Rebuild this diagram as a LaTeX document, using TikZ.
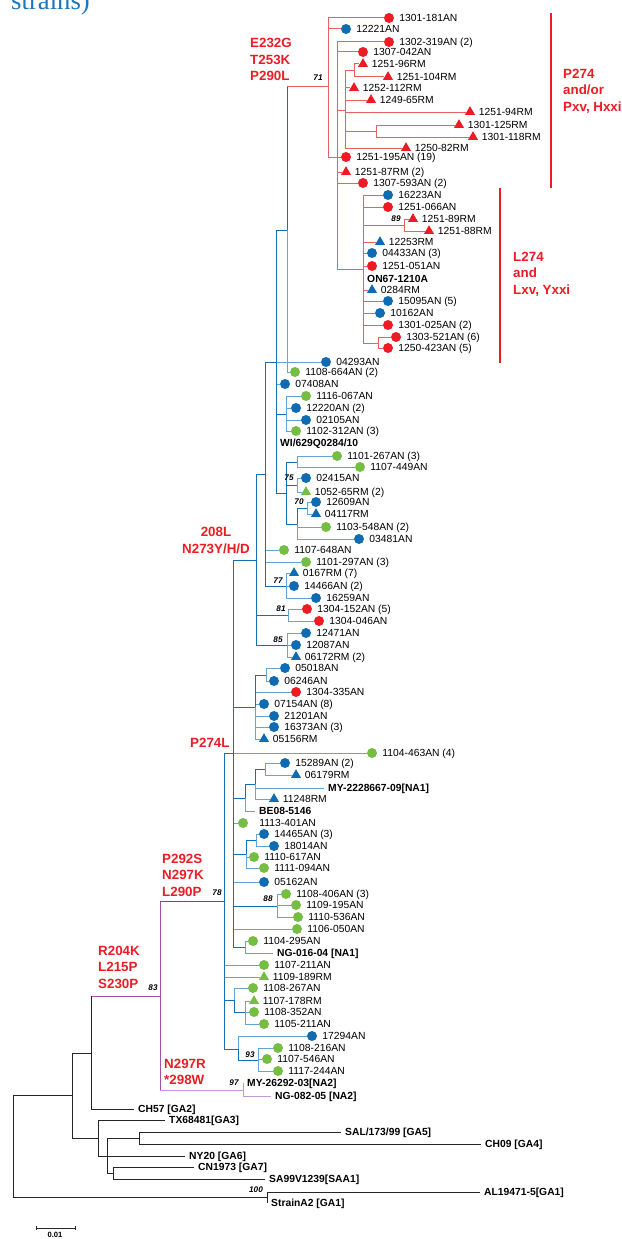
\documentclass[tikz,border=0pt]{standalone}
\usepackage{fontspec}
\setmainfont{Liberation Sans}
\newfontfamily\captionfont{Liberation Serif}
\usetikzlibrary{positioning, shapes.geometric}

\definecolor{dotblue}{RGB}{16,108,178}
\definecolor{dotred}{RGB}{237,28,36}
\definecolor{dotgreen}{RGB}{118,189,67}
\definecolor{lineblue}{RGB}{20,112,182}
\definecolor{leafblue}{RGB}{100,165,215}
\definecolor{linered}{RGB}{240,95,95}
\definecolor{linepurple}{RGB}{165,80,170}
\definecolor{leafpurple}{RGB}{200,150,215}
\definecolor{titleblue}{RGB}{30,118,186}

\begin{document}
\begin{tikzpicture}[
    x=0.03cm, y=-0.03cm,
    node distance=0.15cm,
    bdot/.style={circle, fill=dotblue, inner sep=0pt, minimum size=0.3cm},
    rdot/.style={circle, fill=dotred, inner sep=0pt, minimum size=0.3cm},
    gdot/.style={circle, fill=dotgreen, inner sep=0pt, minimum size=0.3cm},
    btri/.style={regular polygon, regular polygon sides=3, fill=dotblue, inner sep=0pt, minimum size=0.35cm},
    rtri/.style={regular polygon, regular polygon sides=3, fill=dotred, inner sep=0pt, minimum size=0.35cm},
    gtri/.style={regular polygon, regular polygon sides=3, fill=dotgreen, inner sep=0pt, minimum size=0.35cm},
    lbl/.style={font=\fontsize{8.8}{10}\selectfont, inner sep=0pt, text height=6.3pt, text depth=0pt},
    refname/.style={font=\bfseries\fontsize{8.8}{10}\selectfont, inner ysep=0pt, inner xsep=0.12cm, text height=6.3pt, text depth=0pt, anchor=west},
    mut/.style={font=\bfseries\fontsize{11.4}{14}\selectfont, text=dotred, align=left, inner sep=0pt, anchor=west},
    boot/.style={font=\bfseries\itshape\fontsize{7}{8}\selectfont, inner sep=0pt},
    bedge/.style={draw=lineblue, line width=0.85pt},
    bleaf/.style={draw=leafblue, line width=0.85pt},
    redge/.style={draw=linered, line width=0.85pt},
    pedge/.style={draw=linepurple, line width=0.85pt},
    ledge/.style={draw=leafpurple, line width=0.85pt},
    kedge/.style={draw=black!85, line width=0.85pt},
    bar/.style={draw=dotred, line width=1.5pt}
]
\useasboundingbox (0,0) rectangle (622,1239);

\node (title) [anchor=base west, inner sep=0pt, text=titleblue, font=\captionfont\fontsize{22.8}{24}\selectfont] at (11,10) {strains)};

% Internal nodes
\coordinate (nA) at (328,87);
\coordinate (nB) at (337,157);
\coordinate (nC) at (345,110);
\coordinate (nD) at (354,71);
\coordinate (nE) at (376,131);
\coordinate (nF) at (363,269);
\coordinate (nG) at (404,225);
\coordinate (nH) at (378,343);
\coordinate (nJ) at (287,230);
\coordinate (nI) at (276,362);
\coordinate (nL) at (286,414);
\coordinate (nM) at (286,493);
\coordinate (nN) at (297,462);
\coordinate (nO) at (297,485);
\coordinate (nP) at (297,524);
\coordinate (nQ) at (307,508);
\coordinate (nK) at (265,474);
\coordinate (nR) at (286,586);
\coordinate (nS) at (256,560);
\coordinate (nU) at (288,615);
\coordinate (nV) at (287,645);
\coordinate (nT) at (233,753);
\coordinate (nW) at (255,707);
\coordinate (nX) at (266,675);
\coordinate (nCC) at (245,798);
\coordinate (nDD) at (255,784);
\coordinate (nEE) at (265,769);
\coordinate (nFF) at (246,854);
\coordinate (nGG) at (256,840);
\coordinate (nHH) at (277,906);
\coordinate (nBB) at (245,947);
\coordinate (nY) at (224,901);
\coordinate (nII) at (234,1000);
\coordinate (nJJ) at (245,1012);
\coordinate (nZ) at (238,1049);
\coordinate (nAA) at (258,1060);
\coordinate (nPP) at (160,996);
\coordinate (nQQ) at (243,1090);
\coordinate (nRR) at (91,1053);
\coordinate (nSS) at (72,1095);
\coordinate (nTT) at (98,1138);
\coordinate (nUU) at (107,1156);
\coordinate (nVV) at (139,1138);
\coordinate (nWW) at (113,1173);
\coordinate (nRoot) at (13,1146);
\coordinate (nXX) at (267,1197);

% Leaves
\node (m1) [rdot] at (389,18) {}; \node (t1) [lbl, right=of m1] {1301-181AN};
\node (m2) [bdot] at (346,29) {}; \node (t2) [lbl, right=of m2] {12221AN};
\node (m3) [rdot] at (389,42) {}; \node (t3) [lbl, right=of m3] {1302-319AN (2)};
\node (m4) [rdot] at (363,52) {}; \node (t4) [lbl, right=of m4] {1307-042AN};
\node (m5) [rtri] at (363,64) {}; \node (t5) [lbl, right=of m5] {1251-96RM};
\node (m6) [rtri] at (388,77) {}; \node (t6) [lbl, right=of m6] {1251-104RM};
\node (m7) [rtri] at (354,88) {}; \node (t7) [lbl, right=of m7] {1252-112RM};
\node (m8) [rtri] at (371,100) {}; \node (t8) [lbl, right=of m8] {1249-65RM};
\node (m9) [rtri] at (470,112) {}; \node (t9) [lbl, right=of m9] {1251-94RM};
\node (m10) [rtri] at (459,125) {}; \node (t10) [lbl, right=of m10] {1301-125RM};
\node (m11) [rtri] at (473,137) {}; \node (t11) [lbl, right=of m11] {1301-118RM};
\node (m12) [rtri] at (406,148) {}; \node (t12) [lbl, right=of m12] {1250-82RM};
\node (m13) [rdot] at (346,157) {}; \node (t13) [lbl, right=of m13] {1251-195AN (19)};
\node (m14) [rtri] at (346,172) {}; \node (t14) [lbl, right=of m14] {1251-87RM (2)};
\node (m15) [rdot] at (363,183) {}; \node (t15) [lbl, right=of m15] {1307-593AN (2)};
\node (m16) [bdot] at (388,195) {}; \node (t16) [lbl, right=of m16] {16223AN};
\node (m17) [rdot] at (388,207) {}; \node (t17) [lbl, right=of m17] {1251-066AN};
\node (m18) [rtri] at (413,219) {}; \node (t18) [lbl, right=of m18] {1251-89RM};
\node (m19) [rtri] at (429,231) {}; \node (t19) [lbl, right=of m19] {1251-88RM};
\node (m20) [btri] at (380,242) {}; \node (t20) [lbl, right=of m20] {12253RM};
\node (m21) [bdot] at (372,253) {}; \node (t21) [lbl, right=of m21] {04433AN (3)};
\node (m22) [rdot] at (372,266) {}; \node (t22) [lbl, right=of m22] {1251-051AN};
\node (t23) [refname] at (363,279) {ON67-1210A};
\node (m24) [btri] at (372,290) {}; \node (t24) [lbl, right=of m24] {0284RM};
\node (m25) [bdot] at (388,301) {}; \node (t25) [lbl, right=of m25] {15095AN (5)};
\node (m26) [bdot] at (380,313) {}; \node (t26) [lbl, right=of m26] {10162AN};
\node (m27) [rdot] at (388,325) {}; \node (t27) [lbl, right=of m27] {1301-025AN (2)};
\node (m28) [rdot] at (396,337) {}; \node (t28) [lbl, right=of m28] {1303-521AN (6)};
\node (m29) [rdot] at (388,348) {}; \node (t29) [lbl, right=of m29] {1250-423AN (5)};
\node (m30) [gdot] at (295,372) {}; \node (t30) [lbl, right=of m30] {1108-664AN (2)};
\node (m31) [bdot] at (326,362) {}; \node (t31) [lbl, right=of m31] {04293AN};
\node (m32) [bdot] at (285,384) {}; \node (t32) [lbl, right=of m32] {07408AN};
\node (m33) [gdot] at (306,396) {}; \node (t33) [lbl, right=of m33] {1116-067AN};
\node (m34) [bdot] at (296,408) {}; \node (t34) [lbl, right=of m34] {12220AN (2)};
\node (m35) [bdot] at (306,420) {}; \node (t35) [lbl, right=of m35] {02105AN};
\node (m36) [gdot] at (296,431) {}; \node (t36) [lbl, right=of m36] {1102-312AN (3)};
\node (t37) [refname] at (276,443) {WI/629Q0284/10};
\node (m38) [gdot] at (337,456) {}; \node (t38) [lbl, right=of m38] {1101-267AN (3)};
\node (m39) [gdot] at (360,467) {}; \node (t39) [lbl, right=of m39] {1107-449AN};
\node (m40) [bdot] at (306,478) {}; \node (t40) [lbl, right=of m40] {02415AN};
\node (m41) [gtri] at (306,492) {}; \node (t41) [lbl, right=of m41] {1052-65RM (2)};
\node (m42) [bdot] at (316,502) {}; \node (t42) [lbl, right=of m42] {12609AN};
\node (m43) [btri] at (316,514) {}; \node (t43) [lbl, right=of m43] {04117RM};
\node (m44) [gdot] at (326,527) {}; \node (t44) [lbl, right=of m44] {1103-548AN (2)};
\node (m45) [bdot] at (359,539) {}; \node (t45) [lbl, right=of m45] {03481AN};
\node (m46) [gdot] at (284,550) {}; \node (t46) [lbl, right=of m46] {1107-648AN};
\node (m47) [gdot] at (306,562) {}; \node (t47) [lbl, right=of m47] {1101-297AN (3)};
\node (m48) [btri] at (294,573) {}; \node (t48) [lbl, right=of m48] {0167RM (7)};
\node (m49) [bdot] at (294,586) {}; \node (t49) [lbl, right=of m49] {14466AN (2)};
\node (m50) [bdot] at (316,598) {}; \node (t50) [lbl, right=of m50] {16259AN};
\node (m51) [rdot] at (307,609) {}; \node (t51) [lbl, right=of m51] {1304-152AN (5)};
\node (m52) [rdot] at (319,621) {}; \node (t52) [lbl, right=of m52] {1304-046AN};
\node (m53) [bdot] at (306,633) {}; \node (t53) [lbl, right=of m53] {12471AN};
\node (m54) [bdot] at (296,645) {}; \node (t54) [lbl, right=of m54] {12087AN};
\node (m55) [btri] at (296,657) {}; \node (t55) [lbl, right=of m55] {06172RM (2)};
\node (m56) [bdot] at (285,668) {}; \node (t56) [lbl, right=of m56] {05018AN};
\node (m57) [bdot] at (274,681) {}; \node (t57) [lbl, right=of m57] {06246AN};
\node (m58) [rdot] at (296,692) {}; \node (t58) [lbl, right=of m58] {1304-335AN};
\node (m59) [bdot] at (264,704) {}; \node (t59) [lbl, right=of m59] {07154AN (8)};
\node (m60) [bdot] at (274,716) {}; \node (t60) [lbl, right=of m60] {21201AN};
\node (m61) [bdot] at (274,727) {}; \node (t61) [lbl, right=of m61] {16373AN (3)};
\node (m62) [btri] at (264,739) {}; \node (t62) [lbl, right=of m62] {05156RM};
\node (m63) [gdot] at (372,753) {}; \node (t63) [lbl, right=of m63] {1104-463AN (4)};
\node (m64) [bdot] at (285,763) {}; \node (t64) [lbl, right=of m64] {15289AN (2)};
\node (m65) [btri] at (296,775) {}; \node (t65) [lbl, right=of m65] {06179RM};
\node (t66) [refname] at (324,788) {MY-2228667-09[NA1]};
\node (m67) [btri] at (274,799) {}; \node (t67) [lbl, right=of m67] {11248RM};
\node (t68) [refname] at (255,811) {BE08-5146};
\node (m69) [gdot] at (243,823) {}; \node (t69) [lbl, right=0.33cm of m69] {1113-401AN};
\node (m70) [bdot] at (264,834) {}; \node (t70) [lbl, right=of m70] {14465AN (3)};
\node (m71) [bdot] at (274,846) {}; \node (t71) [lbl, right=of m71] {18014AN};
\node (m72) [gdot] at (254,857) {}; \node (t72) [lbl, right=of m72] {1110-617AN};
\node (m73) [gdot] at (264,868) {}; \node (t73) [lbl, right=of m73] {1111-094AN};
\node (m74) [bdot] at (264,882) {}; \node (t74) [lbl, right=of m74] {05162AN};
\node (m75) [gdot] at (286,894) {}; \node (t75) [lbl, right=of m75] {1108-406AN (3)};
\node (m76) [gdot] at (296,905) {}; \node (t76) [lbl, right=of m76] {1109-195AN};
\node (m77) [gdot] at (298,917) {}; \node (t77) [lbl, right=of m77] {1110-536AN};
\node (m78) [gdot] at (297,929) {}; \node (t78) [lbl, right=of m78] {1106-050AN};
\node (m79) [gdot] at (253,941) {}; \node (t79) [lbl, right=of m79] {1104-295AN};
\node (t80) [refname] at (273,953) {NG-016-04 [NA1]};
\node (m81) [gdot] at (264,965) {}; \node (t81) [lbl, right=of m81] {1107-211AN};
\node (m82) [gtri] at (264,977) {}; \node (t82) [lbl, right=of m82] {1109-189RM};
\node (m83) [gdot] at (253,988) {}; \node (t83) [lbl, right=of m83] {1108-267AN};
\node (m84) [gtri] at (254,1001) {}; \node (t84) [lbl, right=of m84] {1107-178RM};
\node (m85) [gdot] at (254,1012) {}; \node (t85) [lbl, right=of m85] {1108-352AN};
\node (m86) [gdot] at (264,1024) {}; \node (t86) [lbl, right=of m86] {1105-211AN};
\node (m87) [bdot] at (312,1036) {}; \node (t87) [lbl, right=of m87] {17294AN};
\node (m88) [gdot] at (278,1048) {}; \node (t88) [lbl, right=of m88] {1108-216AN};
\node (m89) [gdot] at (267,1059) {}; \node (t89) [lbl, right=of m89] {1107-546AN};
\node (m90) [gdot] at (278,1071) {}; \node (t90) [lbl, right=of m90] {1117-244AN};
\node (t91) [refname] at (243,1083) {MY-26292-03[NA2]};
\node (t92) [refname] at (271,1096) {NG-082-05 [NA2]};
\node (t93) [refname] at (134,1109) {CH57 [GA2]};
\node (t94) [refname] at (165,1120) {TX68481[GA3]};
\node (t95) [refname] at (341,1132) {SAL/173/99 [GA5]};
\node (t96) [refname] at (481,1144) {CH09 [GA4]};
\node (t97) [refname] at (185,1156) {NY20 [GA6]};
\node (t98) [refname] at (194,1167) {CN1973 [GA7]};
\node (t99) [refname] at (265,1179) {SA99V1239[SAA1]};
\node (t100) [refname] at (480,1192) {AL19471-5[GA1]};
\node (t101) [refname] at (267,1203) {StrainA2 [GA1]};

% Red clade
\draw[bedge] (nJ) -- (nJ |- nA);
\draw[redge] (nJ |- nA) -- (nA);
\draw[redge] (nA) |- (m1) (nA) |- (m2) (nA) |- (nB);
\draw[redge] (nB) |- (m3) (nB) |- (m4) (nB) |- (nC) (nB) |- (m13) (nB) |- (m14) (nB) |- (m15) (nB) |- (nF);
\draw[redge] (nC) |- (nD) (nC) |- (m7) (nC) |- (m8) (nC) |- (m9) (nC) |- (nE) (nC) |- (m12);
\draw[redge] (nD) |- (m5) (nD) |- (m6);
\draw[redge] (nE) |- (m10) (nE) |- (m11);
\draw[redge] (nF) |- (m16) (nF) |- (m17) (nF) |- (nG) (nF) |- (m20) (nF) |- (m21) (nF) |- (m22) (nF) |- (t23.west)
    (nF) |- (m24) (nF) |- (m25) (nF) |- (m26) (nF) |- (m27) (nF) |- (nH);
\draw[redge] (nG) |- (m18) (nG) |- (m19);
\draw[redge] (nH) |- (m28) (nH) |- (m29);

% Blue clade, leaf branches
\draw[bleaf] (nJ) |- (m30);
\draw[bleaf] (nI) |- (m31) (nI) |- (m32) (nI) |- (t37.west);
\draw[bleaf] (nL) |- (m33) (nL) |- (m34) (nL) |- (m35) (nL) |- (m36);
\draw[bleaf] (nN) |- (m38) (nN) |- (m39);
\draw[bleaf] (nO) |- (m40) (nO) |- (m41);
\draw[bleaf] (nQ) |- (m42) (nQ) |- (m43);
\draw[bleaf] (nP) |- (m44) (nP) |- (m45);
\draw[bleaf] (nK) |- (m46) (nK) |- (m47);
\draw[bleaf] (nR) |- (m48) (nR) |- (m49) (nR) |- (m50);
\draw[bleaf] (nU) |- (m51) (nU) |- (m52);
\draw[bleaf] (nV) |- (m53) (nV) |- (m54) (nV) |- (m55);
\draw[bleaf] (nX) |- (m56) (nX) |- (m57);
\draw[bleaf] (nW) |- (m58) (nW) |- (m59) (nW) |- (m60) (nW) |- (m61) (nW) |- (m62);
\draw[bleaf] (nT) |- (m63) (nT) |- (m69) (nT) |- (m74) (nT) |- (m78);
\draw[bleaf] (nEE) |- (m64) (nEE) |- (m65);
\draw[bleaf] (nDD) |- (t66.west) (nDD) |- (m67);
\draw[bleaf] (nCC) |- (t68.west);
\draw[bleaf] (nGG) |- (m70) (nGG) |- (m71);
\draw[bleaf] (nFF) |- (m72) (nFF) |- (m73);
\draw[bleaf] (nHH) |- (m75) (nHH) |- (m76) (nHH) |- (m77);
\draw[bleaf] (nBB) |- (m79) (nBB) |- (t80.west);
\draw[bleaf] (nY) |- (m81) (nY) |- (m82);
\draw[bleaf] (nII) |- (m83);
\draw[bleaf] (nJJ) |- (m84) (nJJ) |- (m85) (nJJ) |- (m86);
\draw[bleaf] (nZ) |- (m87);
\draw[bleaf] (nAA) |- (m88) (nAA) |- (m89) (nAA) |- (m90);

% Blue clade, inner branches
\draw[bedge] (nI) |- (nJ) (nI) |- (nL) (nI) |- (nM);
\draw[bedge] (nM) |- (nN) (nM) |- (nO) (nM) |- (nP);
\draw[bedge] (nP) |- (nQ);
\draw[bedge] (nK) |- (nI) (nK) |- (nR);
\draw[bedge] (nS) |- (nK) (nS) |- (nU) (nS) |- (nV);
\draw[bedge] (nW) |- (nX);
\draw[bedge] (nDD) |- (nEE);
\draw[bedge] (nCC) |- (nDD);
\draw[bedge] (nFF) |- (nGG);
\draw[bedge] (nT) |- (nS) (nT) |- (nW) (nT) |- (nCC) (nT) |- (nFF) (nT) |- (nHH) (nT) |- (nBB);
\draw[bedge] (nII) |- (nJJ);
\draw[bedge] (nZ) |- (nAA);
\draw[bedge] (nY) |- (nT) (nY) |- (nII) (nY) |- (nZ);

% Purple branches
\draw[pedge] (nPP |- nY) -- (nPP |- nQQ);
\draw[bedge] (nPP |- nY) -- (nY);
\draw[ledge] (nPP |- nQQ) -- (nQQ);
\draw[ledge] (nQQ) |- (t91.west) (nQQ) |- (t92.west);
\draw[pedge] (nRR |- nPP) -- (nPP);

% Outgroups
\draw[kedge] (nRR) -- (nRR |- nPP);
\draw[kedge] (nRR) |- (t93.west);
\draw[kedge] (nSS) |- (nRR) (nSS) |- (nTT);
\draw[kedge] (nTT) |- (t94.west) (nTT) |- (nUU);
\draw[kedge] (nUU) |- (nVV) (nUU) |- (t97.west) (nUU) |- (nWW);
\draw[kedge] (nVV) |- (t95.west) (nVV) |- (t96.west);
\draw[kedge] (nWW) |- (t98.west) (nWW) |- (t99.west);
\draw[kedge] (nRoot) |- (nSS) (nRoot) |- (nXX);
\draw[kedge] (nXX) |- (t100.west) (nXX) |- (t101.west);

% Bootstrap values
\node (b71) [boot] at (318,78) {71};
\node (b89) [boot] at (396,219) {89};
\node (b75) [boot] at (289,478) {75};
\node (b70) [boot] at (299,502) {70};
\node (b77) [boot] at (278,581) {77};
\node (b81) [boot] at (281,609) {81};
\node (b85) [boot] at (278,640) {85};
\node (b78) [boot] at (217,893) {78};
\node (b88) [boot] at (268,899) {88};
\node (b83) [boot] at (153,988) {83};
\node (b93) [boot] at (250,1055) {93};
\node (b97) [boot] at (234,1083) {97};
\node (b100) [boot] at (256,1190) {100};

% Mutations
\node (mutA) [mut] at (250,59.5) {E232G\\T253K\\P290L};
\node (mutB) [mut, align=center, anchor=center] at (216,540.5) {208L\\N273Y/H/D};
\node (mutC) [mut] at (190,743) {P274L};
\node (mutD) [mut] at (162,875) {P292S\\N297K\\L290P};
\node (mutE) [mut] at (98,967) {R204K\\L215P\\S230P};
\node (mutF) [mut] at (164,1072) {N297R\\*298W};

% Clade bars
\coordinate (barPtop) at (551,13);
\coordinate (barPbot) at (551,188);
\coordinate (barLtop) at (500,188);
\coordinate (barLbot) at (500,363);
\draw[bar] (barPtop) -- (barPbot);
\draw[bar] (barLtop) -- (barLbot);
\node (cladeP) [mut] at (563,91) {P274\\and/or\\Pxv, Hxxi};
\node (cladeL) [mut] at (513,274) {L274\\and\\Lxv, Yxxi};

% Scale bar
\coordinate (sbL) at (36,1228);
\coordinate (sbR) at (75,1228);
\draw[kedge, line width=0.7pt] (sbL) -- (sbR);
\draw[kedge, line width=0.7pt] ([yshift=2pt]sbL) -- ([yshift=-2pt]sbL);
\draw[kedge, line width=0.7pt] ([yshift=2pt]sbR) -- ([yshift=-2pt]sbR);
\node (sbT) [font=\bfseries\fontsize{6.5}{7}\selectfont, inner sep=0pt] at (55,1235) {0.01};

\end{tikzpicture}
\end{document}
